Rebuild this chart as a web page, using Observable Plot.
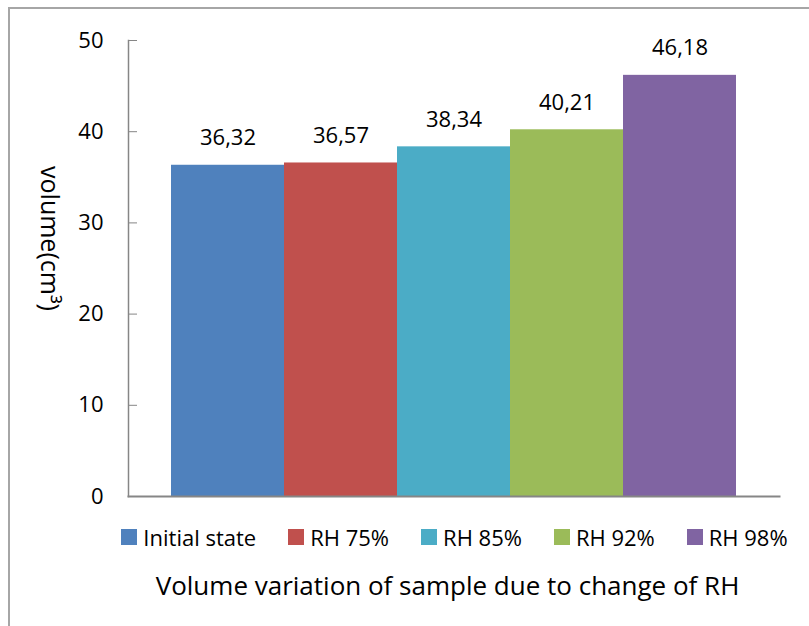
<!DOCTYPE html>
<html>
<head>
<meta charset="utf-8">
<script src="https://cdn.jsdelivr.net/npm/d3@7"></script>
<script src="https://cdn.jsdelivr.net/npm/@observablehq/plot@0.6"></script>
<style>
  body { margin: 0; background: #fff; }
  #wrap { position: relative; width: 809px; height: 626px; overflow: hidden; font-family: "Open Sans", sans-serif; color: #000; }
  #frame { position: absolute; left: 8px; top: 7px; width: 900px; height: 700px; border: 2px solid #a6a6a6; box-sizing: border-box; }
  #chart { position: absolute; left: 0; top: 0; }
  #legend { position: absolute; left: 0; top: 522px; width: 809px; display: flex; justify-content: center; padding-left: 100px; box-sizing: border-box; font-size: 22px; }
  .item { display: flex; align-items: center; margin-right: 32px; }
  .item:last-child { margin-right: 0; }
  .sw { width: 16px; height: 16px; margin-right: 6px; }
  #title { position: absolute; left: 0; top: 567px; width: 809px; text-align: center; padding-left: 86px; box-sizing: border-box; font-size: 26px; }
</style>
</head>
<body>
<div id="wrap">
  <div id="frame"></div>
  <div id="chart"></div>
  <div id="legend"></div>
  <div id="title"></div>
</div>
<script>
const series = ["Initial state", "RH 75%", "RH 85%", "RH 92%", "RH 98%"];
const values = [36.32, 36.57, 38.34, 40.21, 46.18];
const valueLabels = ["36,32", "36,57", "38,34", "40,21", "46,18"];
const colors = ["#4F81BD", "#C0504D", "#4BACC6", "#9BBB59", "#8064A2"];
const yTicks = [0, 10, 20, 30, 40, 50];
const yLabel = "volume(cm³)";
const titleText = "Volume variation of sample due to change of RH";

const data = series.map((s, i) => ({series: s, value: values[i], label: valueLabels[i]}));

const chart = Plot.plot({
  width: 809,
  height: 520,
  marginLeft: 128,
  marginRight: 30,
  marginTop: 40,
  marginBottom: 24,
  style: {fontFamily: "Open Sans, sans-serif", fontSize: "22px", color: "#000", background: "transparent", overflow: "visible"},
  x: {domain: series, padding: 0, insetLeft: 42, insetRight: 42, axis: null},
  y: {domain: [0, 50], ticks: yTicks},
  color: {domain: series, range: colors},
  marks: [
    Plot.barY(data, {x: "series", y: "value", fill: "series"}),
    Plot.text(data, {x: "series", y: "value", text: "label", dy: -27, fontSize: 22, fill: "#000"}),
    Plot.axisY({ticks: yTicks, tickSize: -9, tickPadding: 34, stroke: "#868686", fontSize: 22, label: null}),
    Plot.frame({anchor: "left", stroke: "#868686", strokeWidth: 1.5}),
    Plot.frame({anchor: "bottom", stroke: "#868686", strokeWidth: 2}),
    Plot.text([yLabel], {frameAnchor: "left", textAnchor: "middle", text: d => d, rotate: 90, dx: -80, dy: -30, fontSize: 25, fill: "#000"})
  ]
});
document.getElementById("chart").appendChild(chart);

const legend = document.getElementById("legend");
series.forEach((s, i) => {
  const it = document.createElement("div");
  it.className = "item";
  const sw = document.createElement("div");
  sw.className = "sw";
  sw.style.background = colors[i];
  const tx = document.createElement("span");
  tx.textContent = s;
  it.appendChild(sw); it.appendChild(tx);
  legend.appendChild(it);
});
document.getElementById("title").textContent = titleText;
</script>
</body>
</html>
